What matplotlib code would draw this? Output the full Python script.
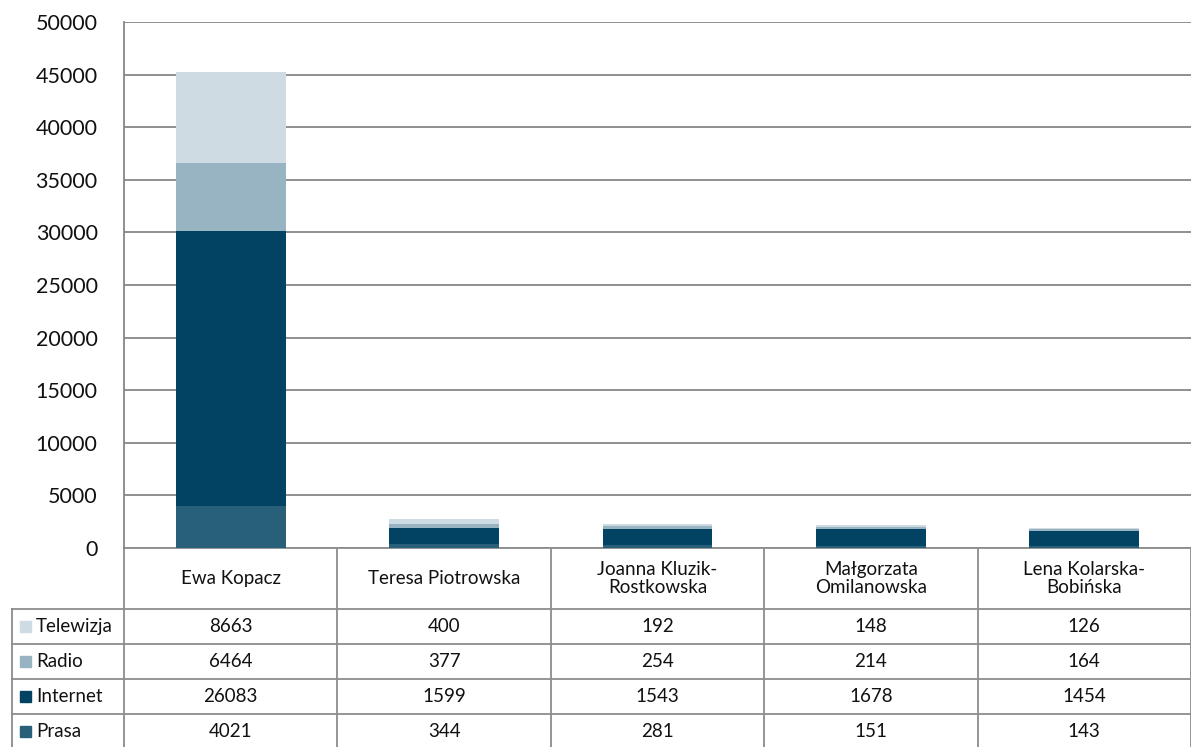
import numpy as np
import matplotlib.pyplot as plt
from matplotlib.transforms import blended_transform_factory
from matplotlib.patches import Rectangle

plt.rcParams['font.family'] = ['Lato', 'DejaVu Sans']

# Data
candidates = ["Ewa Kopacz", "Teresa Piotrowska", "Joanna Kluzik-\nRostkowska",
              "Małgorzata\nOmilanowska", "Lena Kolarska-\nBobińska"]
series = ["Telewizja", "Radio", "Internet", "Prasa"]
telewizja = [8663, 400, 192, 148, 126]
radio = [6464, 377, 254, 214, 164]
internet = [26083, 1599, 1543, 1678, 1454]
prasa = [4021, 344, 281, 151, 143]

colors = {"Telewizja": "#cfdbe2", "Radio": "#98b3c1",
          "Internet": "#024263", "Prasa": "#286079"}
values = {"Telewizja": telewizja, "Radio": radio,
          "Internet": internet, "Prasa": prasa}

W, H = 1191, 747
fig = plt.figure(figsize=(W / 100, H / 100), dpi=100)
left, right, top, bottom = 124, 1191, 22, 548
ax = fig.add_axes([left / W, 1 - bottom / H, (right - left) / W, (bottom - top) / H])

x = np.arange(len(candidates))
base = np.zeros(len(candidates))
for name in ["Prasa", "Internet", "Radio", "Telewizja"]:
    ax.bar(x, values[name], 0.515, bottom=base, color=colors[name], zorder=3)
    base += np.array(values[name])

ax.set_xlim(-0.5, len(candidates) - 0.5)
ax.set_ylim(0, 50000)
ax.set_yticks(range(0, 50001, 5000))
ax.set_xticks([])
ax.tick_params(axis='y', length=0, pad=19, labelsize=15.5, labelcolor='#111111')
ax.yaxis.grid(True, color='#878787', lw=1.3)
ax.set_axisbelow(True)
for s in ['top', 'right', 'bottom']:
    ax.spines[s].set_visible(False)
ax.spines['left'].set_color('#878787')
ax.spines['left'].set_linewidth(1.3)

# Data table below the plot
def ay(py):
    return (bottom - py) / (bottom - top)

tr = blended_transform_factory(ax.transData, ax.transAxes)
tra = ax.transAxes
lc = '#8c8c8c'
lw = 1.3
header_bot = 609
row_h = 35
y_end = 760
fs = 13.5
tc = '#111111'

ax.plot([-0.5, len(candidates) - 0.5], [0, 0], transform=tr, color=lc, lw=lw, clip_on=False)
for i in range(len(candidates) + 1):
    ax.plot([i - 0.5, i - 0.5], [0, ay(y_end)], transform=tr, color=lc, lw=lw, clip_on=False)
leg_left = (12 - left) / (right - left)
ax.plot([leg_left, leg_left], [ay(header_bot), ay(y_end)], transform=tra, color=lc, lw=lw, clip_on=False)
for r in range(len(series)):
    yy = ay(header_bot + r * row_h)
    ax.plot([leg_left, 1], [yy, yy], transform=tra, color=lc, lw=lw, clip_on=False)

for i, c in enumerate(candidates):
    ax.text(i, ay((bottom + header_bot) / 2), c, transform=tr, ha='center', va='center',
            fontsize=fs, linespacing=1.1, color=tc)

sq = 11 / (right - left)
for r, name in enumerate(series):
    yc = ay(header_bot + r * row_h + row_h / 2)
    ax.add_patch(Rectangle(((20 - left) / (right - left), yc - 5.5 / (bottom - top)), sq,
                           11 / (bottom - top), transform=tra, color=colors[name], clip_on=False))
    ax.text((36 - left) / (right - left), yc, name, transform=tra, ha='left', va='center',
            fontsize=fs, color=tc)
    for i, v in enumerate(values[name]):
        ax.text(i, yc, str(v), transform=tr, ha='center', va='center', fontsize=fs, color=tc)

fig.savefig('out.png', dpi=100)
